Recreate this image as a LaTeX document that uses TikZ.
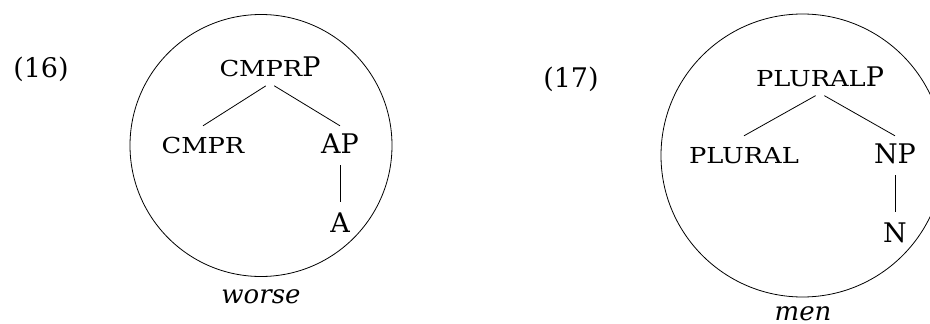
\documentclass[tikz,border=0pt]{standalone}
\usepackage{fontspec}
\setmainfont{DejaVu Serif}
\newfontfamily\scfont[FakeStretch=1.17]{DejaVu Serif}
\newcommand\mysc[1]{{\scfont\fontsize{22}{22}\selectfont #1}}
\begin{document}
\begin{tikzpicture}[x=1pt,y=-1pt,
  lbl/.style={inner xsep=0pt,inner ysep=7pt,text height=20pt,text depth=0pt,anchor=base,font=\fontsize{27}{27}\selectfont},
  word/.style={inner sep=0pt,anchor=base,font=\fontsize{26}{26}\selectfont\itshape},
  exnum/.style={inner sep=0pt,anchor=base,font=\fontsize{27}{27}\selectfont},
  branch/.style={line width=0.8pt,shorten <=5pt},
  stem/.style={line width=0.8pt,shorten <=5pt,shorten >=3pt},
  ring/.style={line width=0.8pt}]
\useasboundingbox (0,0) rectangle (930,324);
\clip (0,0) rectangle (930,324);
% (16)
\node[exnum] (n16) at (41,77) {(16)};
\draw[ring] (261,145.5) circle (131);
\node[lbl] (cmprp) at (270,76) {\mysc{CMPR}P};
\node[lbl] (cmpr) at (203,153) {\mysc{CMPR}};
\node[lbl] (ap) at (340,153) {AP};
\node[lbl] (a) at (340,232) {A};
\node[word] (worse) at (261,303) {worse};
\draw[branch] (cmprp.south) -- (cmpr.north);
\draw[branch] (cmprp.south) -- (ap.north);
\draw[stem] (ap.south) -- (a.north);
% (17)
\node[exnum] (n17) at (571,87) {(17)};
\draw[ring] (802.5,155.5) circle (141.5);
\node[lbl] (pluralp) at (820,86) {\mysc{PLURAL}P};
\node[lbl] (plural) at (744,163) {\mysc{PLURAL}};
\node[lbl] (np) at (895,163) {NP};
\node[lbl] (n) at (895,242) {N};
\node[word] (men) at (803,320) {men};
\draw[branch] (pluralp.south) -- (plural.north);
\draw[branch] (pluralp.south) -- (np.north);
\draw[stem] (np.south) -- (n.north);
\end{tikzpicture}
\end{document}
